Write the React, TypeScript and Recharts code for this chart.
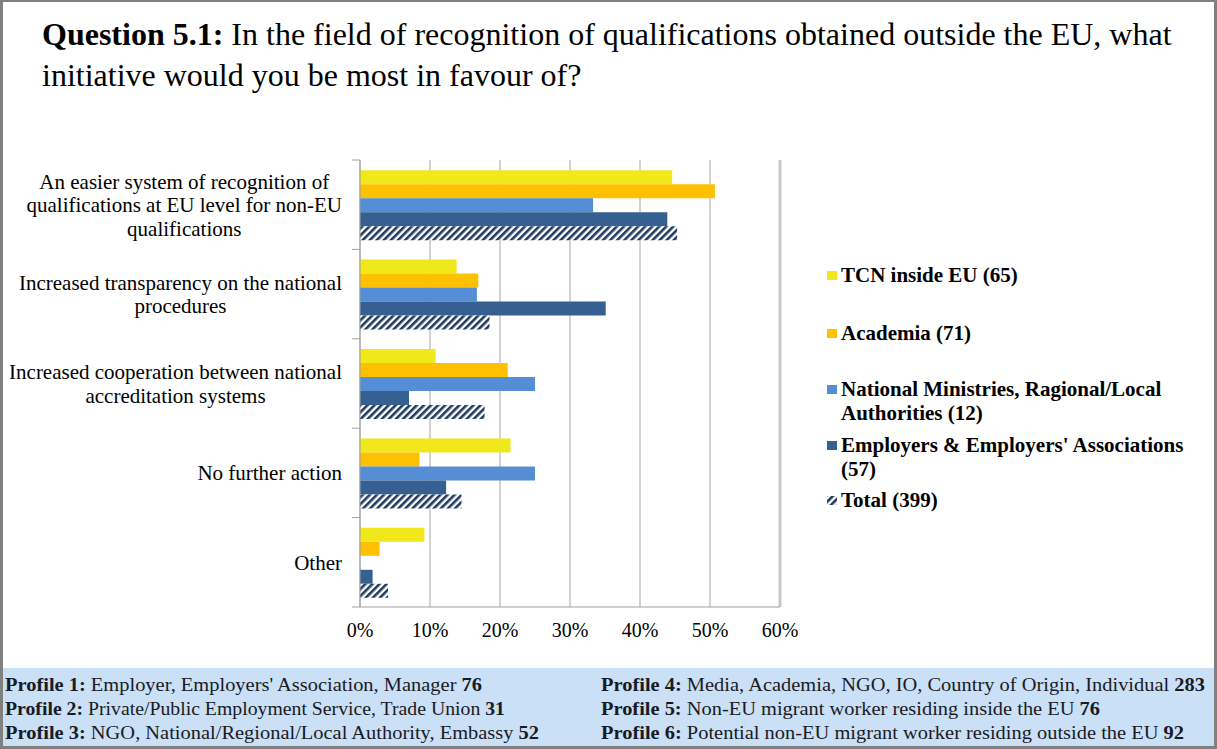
import React from 'react';
import {
  BarChart,
  Bar,
  XAxis,
  YAxis,
  CartesianGrid,
  ReferenceLine,
} from 'recharts';

// categories (line breaks as in the original chart)
const categories = [
  'An easier system of recognition of\nqualifications at EU level for non-EU\nqualifications',
  'Increased transparency on the national\nprocedures',
  'Increased cooperation between national\naccreditation systems',
  'No further action',
  'Other',
];

// share of respondents, in %
const tcnInsideEu = [44.6, 13.8, 10.8, 21.5, 9.2];
const academia = [50.7, 16.9, 21.1, 8.5, 2.8];
const ministries = [33.3, 16.7, 25.0, 25.0, 0];
const employers = [43.9, 35.1, 7.0, 12.3, 1.8];
const total = [45.3, 18.5, 17.8, 14.5, 4.0];

const xTicks = [0, 10, 20, 30, 40, 50, 60];

const seriesNames = [
  'TCN inside EU (65)',
  'Academia (71)',
  'National Ministries, Ragional/Local\nAuthorities (12)',
  "Employers & Employers' Associations\n(57)",
  'Total (399)',
];

const profilesLeft = [
  ['Profile 1:', ' Employer, Employers\' Association, Manager ', '76'],
  ['Profile 2:', ' Private/Public Employment Service, Trade Union ', '31'],
  ['Profile 3:', ' NGO, National/Regional/Local Authority, Embassy ', '52'],
];
const profilesRight = [
  ['Profile 4:', ' Media, Academia, NGO, IO, Country of Origin, Individual ', '283'],
  ['Profile 5:', ' Non-EU migrant worker residing inside the EU ', '76'],
  ['Profile 6:', ' Potential non-EU migrant worker residing outside the EU ', '92'],
];

const COLORS = {
  tcn: '#F0E81A',
  academia: '#FFC000',
  ministries: '#558ED5',
  employers: '#376092',
  hatch: '#1F3A5F',
};

const SERIF = "'Liberation Serif', 'Times New Roman', serif";

// plot geometry
const PLOT_TOP = 160;
const PLOT_BOTTOM = 607;
const BAND = (PLOT_BOTTOM - PLOT_TOP) / categories.length;
const LABEL_RIGHT = 342;
const LABEL_FONT = 21;

const data = categories.map((name, i) => ({
  name,
  tcn: tcnInsideEu[i],
  academia: academia[i],
  ministries: ministries[i],
  employers: employers[i],
  total: total[i],
}));

let ctx: CanvasRenderingContext2D | null = null;
const measure = (s: string) => {
  if (!ctx) {
    ctx = document.createElement('canvas').getContext('2d');
  }
  if (!ctx) return s.length * 9;
  ctx.font = `${LABEL_FONT}px ${SERIF}`;
  return ctx.measureText(s).width;
};

const CategoryTick = ({ y, payload, index }: any) => {
  const lines = String(payload.value).split('\n');
  const block = Math.max(...lines.map(measure));
  const cx = LABEL_RIGHT - block / 2;
  const lh = 23.5;
  const y0 = y - ((lines.length - 1) * lh) / 2;
  return (
    <g>
      <line x1={352} x2={360} y1={y - BAND / 2} y2={y - BAND / 2} stroke="#a0a0a0" />
      {index === categories.length - 1 && (
        <line x1={352} x2={360} y1={y + BAND / 2} y2={y + BAND / 2} stroke="#a0a0a0" />
      )}
      <text textAnchor="middle" fontFamily={SERIF} fontSize={LABEL_FONT} fill="#000">
        {lines.map((l, i) => (
          <tspan key={i} x={cx} y={y0 + i * lh} dy="0.35em">
            {l}
          </tspan>
        ))}
      </text>
    </g>
  );
};

const legendColors = [COLORS.tcn, COLORS.academia, COLORS.ministries, COLORS.employers, 'hatch'];
const legendTops = [261, 319, 375, 431, 486];

export default function App() {
  return (
    <div
      style={{
        position: 'absolute',
        left: 0,
        top: 0,
        width: 1217,
        height: 749,
        background: '#fff',
        boxSizing: 'border-box',
        border: '3px solid #808080',
        borderTopWidth: 2,
        overflow: 'hidden',
      }}
    >
      {/* title */}
      <div
        style={{
          position: 'absolute',
          left: 39,
          top: 12,
          fontFamily: SERIF,
          fontSize: 32,
          lineHeight: '41px',
          color: '#000',
          whiteSpace: 'nowrap',
        }}
      >
        <b>Question 5.1:</b> In the field of recognition of qualifications obtained outside the EU, what
        <br />
        initiative would you be most in favour of?
      </div>

      <div style={{ position: 'absolute', left: -3, top: -2 }}>
        <BarChart
          width={1217}
          height={660}
          data={data}
          layout="vertical"
          margin={{ top: PLOT_TOP, right: 437, bottom: 0, left: 0 }}
          barCategoryGap="11.4%"
          barGap={0}
        >
          <defs>
            <pattern
              id="hatch"
              width="5"
              height="5"
              patternUnits="userSpaceOnUse"
              patternTransform="rotate(45)"
            >
              <rect x="0" y="0" width="5" height="5" fill="#fff" />
              <rect x="0" y="0" width="2.6" height="5" fill={COLORS.hatch} />
            </pattern>
          </defs>
          <CartesianGrid horizontal={false} stroke="#a6a6a6" />
          <XAxis
            type="number"
            domain={[0, 60]}
            ticks={xTicks}
            tickFormatter={(v) => `${v}%`}
            axisLine={{ stroke: '#a0a0a0' }}
            tickLine={false}
            tickSize={0}
            tickMargin={16}
            height={53}
            tick={{ fontSize: 20, fill: '#000', fontFamily: SERIF }}
          />
          <YAxis
            type="category"
            dataKey="name"
            width={360}
            axisLine={{ stroke: '#a0a0a0' }}
            tickLine={false}
            tick={<CategoryTick />}
          />
          <ReferenceLine x={60} stroke="#c8c8c8" strokeWidth={3} />
          <Bar dataKey="tcn" fill={COLORS.tcn} isAnimationActive={false} />
          <Bar dataKey="academia" fill={COLORS.academia} isAnimationActive={false} />
          <Bar dataKey="ministries" fill={COLORS.ministries} isAnimationActive={false} />
          <Bar dataKey="employers" fill={COLORS.employers} isAnimationActive={false} />
          <Bar dataKey="total" fill="url(#hatch)" isAnimationActive={false} />
        </BarChart>
      </div>

      {/* legend */}
      {seriesNames.map((name, i) => (
        <div
          key={name}
          style={{
            position: 'absolute',
            left: 822,
            top: legendTops[i],
            fontFamily: SERIF,
            fontWeight: 'bold',
            fontSize: 21,
            lineHeight: '24px',
            color: '#000',
            whiteSpace: 'pre',
            display: 'flex',
          }}
        >
          <svg width={16} height={24} style={{ flex: 'none' }}>
            {legendColors[i] === 'hatch' ? (
              <rect x={2} y={8} width={10} height={9} fill="url(#hatch)" />
            ) : (
              <rect x={2} y={8} width={10} height={9} fill={legendColors[i]} />
            )}
          </svg>
          <span>{name}</span>
        </div>
      ))}

      {/* profiles footer */}
      <div
        style={{
          position: 'absolute',
          left: 0,
          top: 666,
          width: 1211,
          height: 78,
          background: '#C9E0F7',
        }}
      />
      <svg
        width={1217}
        height={749}
        style={{ position: 'absolute', left: -3, top: -2 }}
      >
        {profilesLeft.map((p, i) => (
          <text
            key={`l${i}`}
            x={5}
            y={691 + i * 24}
            fontFamily={SERIF}
            fontSize={19}
            fill="#1a1a24"
            textLength={[477, 500, 534][i]}
            lengthAdjust="spacingAndGlyphs"
          >
            <tspan fontWeight="bold">{p[0]}</tspan>
            <tspan>{p[1]}</tspan>
            <tspan fontWeight="bold">{p[2]}</tspan>
          </text>
        ))}
        {profilesRight.map((p, i) => (
          <text
            key={`r${i}`}
            x={601}
            y={691 + i * 24}
            fontFamily={SERIF}
            fontSize={19}
            fill="#1a1a24"
            textLength={[604, 499, 583][i]}
            lengthAdjust="spacingAndGlyphs"
          >
            <tspan fontWeight="bold">{p[0]}</tspan>
            <tspan>{p[1]}</tspan>
            <tspan fontWeight="bold">{p[2]}</tspan>
          </text>
        ))}
      </svg>
    </div>
  );
}
